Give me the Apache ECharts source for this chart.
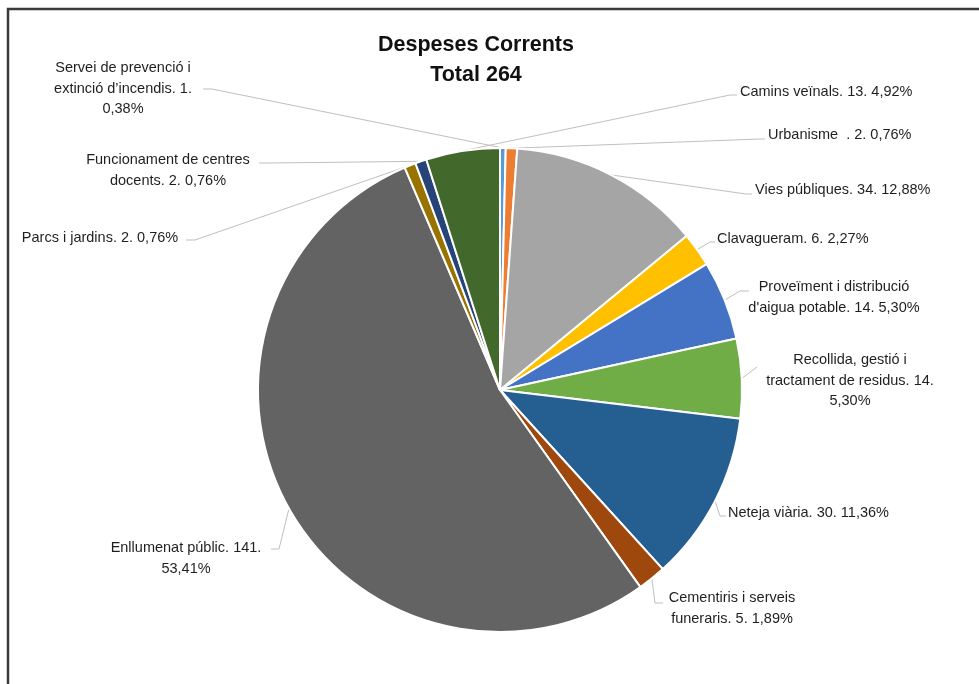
<!DOCTYPE html>
<html>
<head>
<meta charset="utf-8">
<script src="https://cdn.jsdelivr.net/npm/echarts@6/dist/echarts.min.js"></script>
<style>html,body{margin:0;padding:0;background:#fff;}#c{width:979px;height:684px;}</style>
</head>
<body>
<div id="c"></div>
<script>
// Data (clockwise from 12 o'clock)
const categories = [
  "Servei de prevenció i\nextinció d’incendis",
  "Urbanisme  ",
  "Vies públiques",
  "Clavagueram",
  "Proveïment i distribució\nd'aigua potable",
  "Recollida, gestió i\ntractament de residus",
  "Neteja viària",
  "Cementiris i serveis\nfuneraris",
  "Enllumenat públic",
  "Parcs i jardins",
  "Funcionament de centres\ndocents",
  "Camins veïnals"
];
const values = [1, 2, 34, 6, 14, 14, 30, 5, 141, 2, 2, 13];
const titleLines = ["Despeses Corrents", "Total 264"];

// Styles / layout
const colors = ["#5B9BD5","#ED7D31","#A5A5A5","#FFC000","#4472C4","#70AD47","#255E91","#9E480E","#636363","#997300","#264478","#43682B"];
const pctBreak = ["\n"," "," "," "," ","\n"," "," ","\n"," "," "," "];
const CX = 500, CY = 390, R = 242;
const labelPos = [
  {x:123, y:58,  align:'center', ex:212, ey:89,  lx:203},
  {x:768, y:125, align:'left',   ex:760, ey:139, lx:765},
  {x:755, y:180, align:'left',   ex:746, ey:194, lx:752},
  {x:717, y:229, align:'left',   ex:710, ey:242, lx:715},
  {x:834, y:277, align:'center', ex:740, ey:291, lx:749},
  {x:850, y:350, align:'center', ex:757, ey:367, lx:757},
  {x:728, y:503, align:'left',   ex:720, ey:516, lx:726},
  {x:732, y:588, align:'center', ex:655, ey:603, lx:663},
  {x:186, y:538, align:'center', ex:279, ey:549, lx:271},
  {x:100, y:228, align:'center', ex:195, ey:240, lx:186},
  {x:168, y:150, align:'center', ex:270, ey:163, lx:259},
  {x:740, y:82,  align:'left',   ex:730, ey:95,  lx:737}
];

const total = values.reduce((a, b) => a + b, 0);
const cum = [];
values.reduce((acc, v, i) => { cum[i] = acc + v / 2; return acc + v; }, 0);

function fmtPct(v) { return (v / total * 100).toFixed(2).replace('.', ','); }

const chart = echarts.init(document.getElementById('c'), null, {renderer: 'canvas'});
const FONT = "'Liberation Sans', Arial, sans-serif";
chart.setOption({
  animation: false,
  backgroundColor: '#ffffff',
  graphic: [
    {type: 'rect', shape: {x: 8, y: 9, width: 2000, height: 2000}, style: {fill: 'none', stroke: '#3a3a3a', lineWidth: 2.5}, silent: true},
    {type: 'text', x: 476, y: 45, style: {text: titleLines[0], fill: '#111', font: "bold 21.5px " + FONT, align: 'center', verticalAlign: 'middle'}},
    {type: 'text', x: 476, y: 75, style: {text: titleLines[1], fill: '#111', font: "bold 21.5px " + FONT, align: 'center', verticalAlign: 'middle'}}
  ],
  series: [{
    type: 'pie',
    center: [CX, CY],
    radius: [0, R],
    startAngle: 90,
    clockwise: true,
    avoidLabelOverlap: false,
    itemStyle: {borderColor: '#ffffff', borderWidth: 2},
    label: {
      show: true,
      position: 'outside',
      color: '#1f1f1f',
      fontSize: 14.5,
      lineHeight: 20.5,
      fontFamily: FONT,
      formatter: function (p) {
        const i = p.dataIndex;
        return categories[i] + '. ' + values[i] + '.' + pctBreak[i] + fmtPct(values[i]) + '%';
      }
    },
    labelLine: {show: true, smooth: false, length: 10, length2: 10, lineStyle: {color: '#BFBFBF', width: 1}},
    labelLayout: function (params) {
      const i = params.dataIndex;
      const p = labelPos[i];
      const a = cum[i] / total * Math.PI * 2;
      const sx = CX + R * Math.sin(a), sy = CY - R * Math.cos(a);
      return {
        x: p.x, y: p.y, align: p.align, verticalAlign: 'top',
        labelLinePoints: [[sx, sy], [p.ex, p.ey], [p.lx, p.ey]]
      };
    },
    emphasis: {disabled: true},
    data: values.map((v, i) => ({value: v, name: categories[i], itemStyle: {color: colors[i]}}))
  }]
});
</script>
</body>
</html>
